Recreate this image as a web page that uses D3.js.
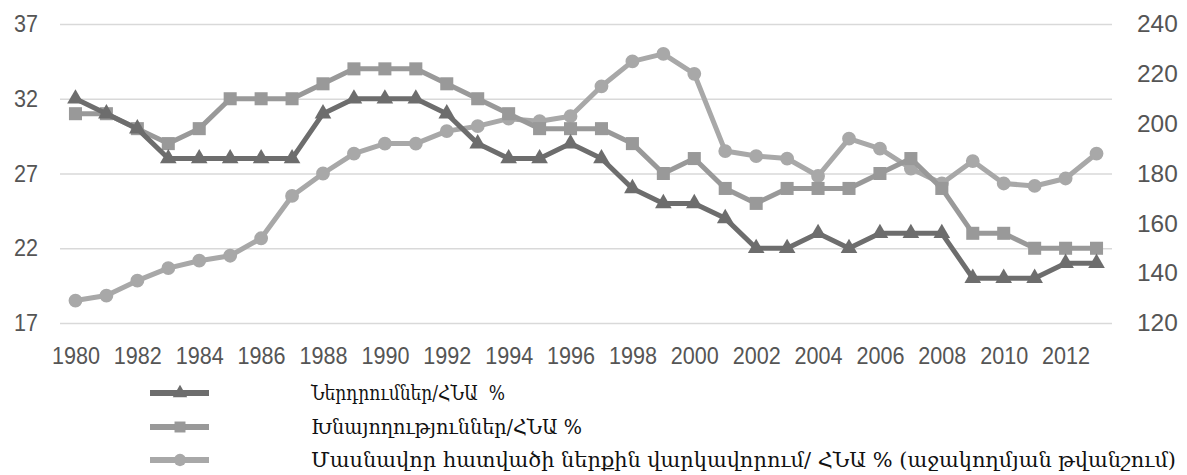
<!DOCTYPE html>
<html>
<head>
<meta charset="utf-8">
<script src="https://cdn.jsdelivr.net/npm/d3@7"></script>
<style>
  body { margin: 0; background: #fff; }
  .axis text { font-family: "Liberation Sans Narrow", "Arial Narrow", "Liberation Sans", sans-serif; font-size: 24px; fill: #555; }
  .legend text { font-family: "DejaVu Serif Condensed", "DejaVu Serif", serif; font-size: 20px; fill: #111; white-space: pre; }
</style>
</head>
<body>
<svg id="chart"></svg>
<script>
// Data
var years = d3.range(1980, 2014);
var investments = [32, 31, 30, 28, 28, 28, 28, 28, 31, 32, 32, 32, 31, 29, 28, 28, 29, 28, 26, 25, 25, 24, 22, 22, 23, 22, 23, 23, 23, 20, 20, 20, 21, 21];
var savings = [31, 31, 30, 29, 30, 32, 32, 32, 33, 34, 34, 34, 33, 32, 31, 30, 30, 30, 29, 27, 28, 26, 25, 26, 26, 26, 27, 28, 26, 23, 23, 22, 22, 22];
var credit = [129, 131, 137, 142, 145, 147, 154, 171, 180, 188, 192, 192, 197, 199, 202, 201, 203, 215, 225, 228, 220, 189, 187, 186, 179, 194, 190, 182, 176, 185, 176, 175, 178, 188];
var leftTicks = [17, 22, 27, 32, 37];
var rightTicks = [120, 140, 160, 180, 200, 220, 240];
var xTicks = d3.range(1980, 2013, 2);
var seriesNames = [
  "Ներդրումներ/ՀՆԱ  %",
  "Խնայողություններ/ՀՆԱ %",
  "Մասնավոր հատվածի ներքին վարկավորում/ ՀՆԱ % (աջակողմյան թվանշում)"
];
var colors = ["#6d6d6d", "#999999", "#a8a8a8"];

var W = 1187, H = 475;
var plot = { left: 60, right: 1112, top: 24, bottom: 323 };

var svg = d3.select('#chart').attr('width', W).attr('height', H);

var x = d3.scalePoint()
    .domain(years)
    .range([plot.left, plot.right])
    .padding(0.5);
var yL = d3.scaleLinear().domain([17, 37]).range([plot.bottom, plot.top]);
var yR = d3.scaleLinear().domain([120, 240]).range([plot.bottom, plot.top]);

// squeeze the tick labels to the narrow look of the original
function narrow(sel, w) {
  sel.selectAll('text')
    .attr('lengthAdjust', 'spacingAndGlyphs')
    .attr('textLength', function () { return this.textContent.length * w; });
}

// gridlines + left axis
var gL = svg.append('g')
    .attr('class', 'axis')
    .attr('transform', 'translate(' + plot.left + ',0)')
    .call(d3.axisLeft(yL).tickValues(leftTicks).tickSize(-(plot.right - plot.left)).tickPadding(22));
gL.select('.domain').remove();
gL.selectAll('line').attr('stroke', '#d9d9d9').attr('stroke-width', 1.5);
narrow(gL, 12);

var gR = svg.append('g')
    .attr('class', 'axis')
    .attr('transform', 'translate(' + plot.right + ',0)')
    .call(d3.axisRight(yR).tickValues(rightTicks).tickSize(0).tickPadding(25));
gR.select('.domain').remove();
narrow(gR, 13.6);

var gX = svg.append('g')
    .attr('class', 'axis')
    .attr('transform', 'translate(0,' + plot.bottom + ')')
    .call(d3.axisBottom(x).tickValues(xTicks).tickSize(0).tickPadding(24));
gX.select('.domain').remove();
narrow(gX, 12);

// line generators
var lineL = d3.line().x(function (d, i) { return x(years[i]); }).y(function (d) { return yL(d); });
var lineR = d3.line().x(function (d, i) { return x(years[i]); }).y(function (d) { return yR(d); });

var sets = [
  { data: credit, line: lineR, y: yR, sym: d3.symbolCircle, size: 150, color: colors[2] },
  { data: savings, line: lineL, y: yL, sym: d3.symbolSquare, size: 170, color: colors[1] },
  { data: investments, line: lineL, y: yL, sym: d3.symbolTriangle, size: 120, color: colors[0] }
];

sets.forEach(function (s) {
  svg.append('path')
    .datum(s.data)
    .attr('d', s.line)
    .attr('fill', 'none')
    .attr('stroke', s.color)
    .attr('stroke-width', 5)
    .attr('stroke-linejoin', 'round');
  svg.append('g').selectAll('path')
    .data(s.data)
    .enter().append('path')
    .attr('d', d3.symbol().type(s.sym).size(s.size))
    .attr('transform', function (d, i) { return 'translate(' + x(years[i]) + ',' + s.y(d) + ')'; })
    .attr('fill', s.color);
});

// legend
var legendRows = [
  { y: 393, sym: d3.symbolTriangle, size: 90, color: colors[0], w: 194 },
  { y: 427, sym: d3.symbolSquare, size: 120, color: colors[1], w: 271 },
  { y: 460, sym: d3.symbolCircle, size: 120, color: colors[2], w: 865 }
];
var lg = svg.append('g').attr('class', 'legend');
legendRows.forEach(function (r, i) {
  lg.append('line')
    .attr('x1', 150).attr('x2', 209)
    .attr('y1', r.y).attr('y2', r.y)
    .attr('stroke', r.color).attr('stroke-width', 6);
  lg.append('path')
    .attr('d', d3.symbol().type(r.sym).size(r.size))
    .attr('transform', 'translate(180,' + r.y + ')')
    .attr('fill', r.color);
  lg.append('text')
    .attr('x', 311)
    .attr('y', r.y)
    .attr('dy', '0.35em')
    .attr('textLength', r.w)
    .attr('lengthAdjust', 'spacingAndGlyphs')
    .text(seriesNames[i]);
});
</script>
</body>
</html>
